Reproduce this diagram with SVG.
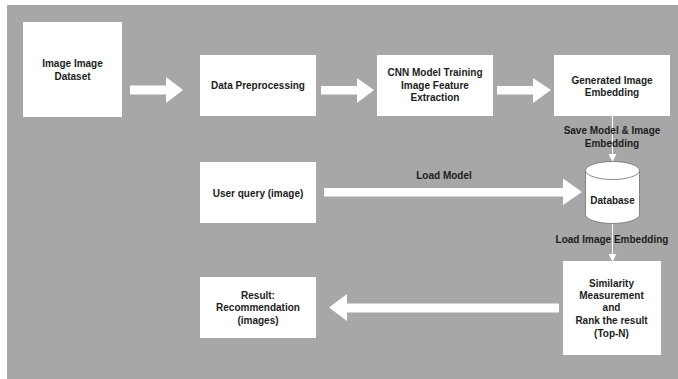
<svg xmlns="http://www.w3.org/2000/svg" width="678" height="379" viewBox="0 0 678 379">
  <style>
    .box { fill: #ffffff; }
    .lbl { font-family: "Liberation Sans", Arial, sans-serif; font-size: 10px; font-weight: bold; fill: #1c1c1c; text-anchor: middle; }
    .block { fill: #ffffff; }
    .thin { stroke: #ffffff; stroke-width: 1; fill: none; marker-end: url(#head); }
    .cyl { fill: #ffffff; stroke: #7a7a7a; stroke-width: 0.9; }
  </style>
  <defs>
    <marker id="head" viewBox="0 0 10 10" refX="9" refY="5" markerWidth="8" markerHeight="8" markerUnits="userSpaceOnUse" orient="auto">
      <path d="M0,0 L10,5 L0,10 z" fill="#ffffff"/>
    </marker>
  </defs>

  <!-- canvas -->
  <rect x="0" y="0" width="678" height="379" fill="#ffffff"/>
  <rect x="7" y="5" width="671" height="374" fill="#a7a7a7"/>

  <!-- connectors -->
  <g id="connectors">
    <path class="block" d="M130,85.5 H166 V77 L183,90 L166,103 V94.5 H130 z"/>
    <path class="block" d="M321,86 H357 V78 L374,90 L357,103 V94.5 H321 z"/>
    <path class="block" d="M497,86 H533 V78 L551,90 L533,103 V94.5 H497 z"/>
    <path class="block" d="M324,188 H563 V178.5 L582,192 L563,205 V196.5 H324 z"/>
    <path class="block" d="M559,303.5 H347 V294 L329,307.5 L347,321 V312.5 H559 z"/>
    <line class="thin" x1="612.5" y1="116" x2="612.5" y2="161"/>
    <line class="thin" x1="612.5" y1="223" x2="612.5" y2="261"/>
    <text class="lbl" x="612" y="134.2">Save Model &amp; Image</text>
    <text class="lbl" x="612" y="146.8">Embedding</text>
    <text class="lbl" x="444" y="178.5">Load Model</text>
    <text class="lbl" x="612" y="242.5">Load Image Embedding</text>
  </g>

  <g id="dataset">
    <rect class="box" x="23" y="22" width="99" height="95"/>
    <text class="lbl" x="72.5" y="66.8">Image Image</text>
    <text class="lbl" x="72.5" y="79.5">Dataset</text>
  </g>

  <g id="preprocessing">
    <rect class="box" x="200" y="55" width="116" height="61"/>
    <text class="lbl" x="258" y="88.5">Data Preprocessing</text>
  </g>

  <g id="cnn-training">
    <rect class="box" x="377" y="55" width="116" height="61"/>
    <text class="lbl" x="435" y="76.2">CNN Model Training</text>
    <text class="lbl" x="435" y="88.5">Image Feature</text>
    <text class="lbl" x="435" y="101.2">Extraction</text>
  </g>

  <g id="embedding">
    <rect class="box" x="554" y="55" width="116" height="61"/>
    <text class="lbl" x="612" y="83.5">Generated Image</text>
    <text class="lbl" x="612" y="95.8">Embedding</text>
  </g>

  <g id="user-query">
    <rect class="box" x="200" y="162" width="116" height="61"/>
    <text class="lbl" x="258" y="196.5">User query (image)</text>
  </g>

  <g id="database">
    <path class="cyl" d="M585.5,170.5 V214.5 A27,9 0 0 0 639.5,214.5 V170.5 z"/>
    <ellipse class="cyl" cx="612.5" cy="170.5" rx="27" ry="9"/>
    <text class="lbl" x="612.5" y="204">Database</text>
  </g>

  <g id="similarity">
    <rect class="box" x="563" y="261" width="98" height="94"/>
    <text class="lbl" x="611.5" y="286.8">Similarity</text>
    <text class="lbl" x="611.5" y="299.2">Measurement</text>
    <text class="lbl" x="611.5" y="310.8">and</text>
    <text class="lbl" x="611.5" y="323.5">Rank the result</text>
    <text class="lbl" x="611.5" y="336.8">(Top-N)</text>
  </g>

  <g id="result">
    <rect class="box" x="200" y="277" width="116" height="61"/>
    <text class="lbl" x="258" y="298.5">Result:</text>
    <text class="lbl" x="258" y="311.2">Recommendation</text>
    <text class="lbl" x="258" y="323.8">(images)</text>
  </g>
</svg>
